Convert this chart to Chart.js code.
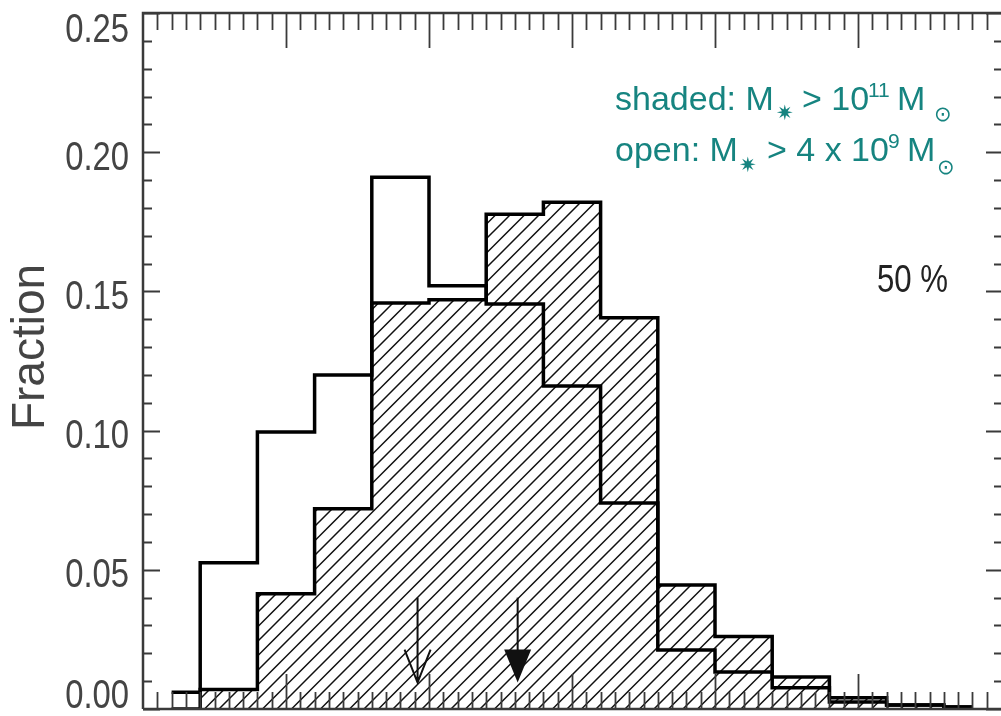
<!DOCTYPE html>
<html><head><meta charset="utf-8">
<script src="https://cdn.jsdelivr.net/npm/chart.js@4.4.1/dist/chart.umd.min.js"></script>
<style>html,body{margin:0;padding:0;background:#fff;}canvas{display:block}</style>
</head><body>
<canvas id="c" width="1001" height="716"></canvas>
<script>
// ---- data ----
const binCenters     = [0.2, 0.6, 1.0, 1.4, 1.8, 2.2, 2.6, 3.0, 3.4, 3.8, 4.2, 4.6, 5.0, 5.4, 5.8];
const openFraction   = [0.0060, 0.0525, 0.0995, 0.1200, 0.1910, 0.1520, 0.1455, 0.1160, 0.0740, 0.0212, 0.0133, 0.0076, 0.0025, 0.0014, 0.0007];
const shadedFraction = [0.0000, 0.0070, 0.0414, 0.0719, 0.1458, 0.1470, 0.1777, 0.1820, 0.1405, 0.0445, 0.0260, 0.0115, 0.0040, 0.0014, 0.0007];
const medianOpen   = 1.92;
const medianShaded = 2.62;
const yTickValues  = [0, 0.05, 0.10, 0.15, 0.20, 0.25];
const yTickLabels  = ['0.00', '0.05', '0.10', '0.15', '0.20', '0.25'];
const yAxisTitle   = 'Fraction';
const percentLabel = '50 %';
const legendLine1  = ['shaded: M', '\u2737', '> 10', '11', 'M', '\u2299'];
const legendLine2  = ['open: M', '\u2737', '> 4 x 10', '9', 'M', '\u2299'];

// ---- styles ----
const AXIS = '#3a3a3a';
const TEAL = '#168480';
const canvas = document.getElementById('c');
const mainCtx = canvas.getContext('2d');

function hatchPattern() {
  const s = 29, h = 14.5;
  const t = document.createElement('canvas');
  t.width = s; t.height = s;
  const g = t.getContext('2d');
  g.strokeStyle = '#111';
  g.lineWidth = 1.5;
  g.beginPath();
  for (let k = -3; k <= 3; k++) {
    g.moveTo(k * h - 1, s + 1);
    g.lineTo(k * h + s + 1, -1);
  }
  g.stroke();
  return mainCtx.createPattern(t, 'repeat');
}

function txt(ctx, s, x, y, font, color, sx, align) {
  ctx.save();
  ctx.translate(x, y);
  ctx.scale(sx || 1, 1);
  ctx.font = font;
  ctx.fillStyle = color;
  ctx.textAlign = align || 'left';
  ctx.textBaseline = 'alphabetic';
  ctx.fillText(s, 0, 0);
  ctx.restore();
}

const decor = {
  id: 'decor',
  afterDraw(chart) {
    const { ctx, chartArea: a, scales: { x, y } } = chart;
    ctx.save();
    // arrows (medians)
    const yTop = y.getPixelForValue(0.040), yTip = y.getPixelForValue(0.0095), headH = 33, headW = 13;
    ctx.strokeStyle = '#111'; ctx.fillStyle = '#111'; ctx.lineWidth = 2;
    let px = x.getPixelForValue(medianOpen);
    ctx.beginPath();
    ctx.moveTo(px, yTop); ctx.lineTo(px, yTip);
    ctx.moveTo(px - headW, yTip - headH); ctx.lineTo(px, yTip); ctx.lineTo(px + headW, yTip - headH);
    ctx.stroke();
    px = x.getPixelForValue(medianShaded);
    ctx.beginPath();
    ctx.moveTo(px, yTop); ctx.lineTo(px, yTip - headH + 2);
    ctx.stroke();
    ctx.beginPath();
    ctx.moveTo(px - headW - 0.5, yTip - headH); ctx.lineTo(px + headW + 0.5, yTip - headH); ctx.lineTo(px, yTip);
    ctx.closePath(); ctx.fill();

    // frame
    const R = a.right + 2;
    ctx.strokeStyle = AXIS;
    ctx.lineWidth = 2.5;
    ctx.beginPath();
    ctx.moveTo(a.left, a.bottom); ctx.lineTo(a.left, a.top); ctx.lineTo(R, a.top);
    ctx.moveTo(a.left, a.bottom); ctx.lineTo(R, a.bottom);
    ctx.moveTo(R, a.top); ctx.lineTo(R, a.bottom);
    ctx.stroke();

    // x ticks (top & bottom, inward)
    ctx.lineWidth = 1.8;
    ctx.beginPath();
    for (let i = 1; i < 60; i++) {
      const p = Math.round(x.getPixelForValue(i / 10)) + 0.5;
      const len = (i % 10 === 0) ? 35 : 17;
      ctx.moveTo(p, a.top); ctx.lineTo(p, a.top + len);
      ctx.moveTo(p, a.bottom); ctx.lineTo(p, a.bottom - len);
    }
    // y ticks (left & right, inward)
    for (let i = 0; i <= 25; i++) {
      const p = Math.round(y.getPixelForValue(i / 100)) + 0.5;
      const len = (i % 5 === 0) ? 17 : 9;
      ctx.moveTo(a.left, p); ctx.lineTo(a.left + len, p);
      ctx.moveTo(R, p); ctx.lineTo(R - len, p);
    }
    ctx.stroke();

    // y tick labels
    yTickValues.forEach((v, i) => {
      let cy = y.getPixelForValue(v) + 3;
      cy = Math.max(28, Math.min(694, cy));
      txt(ctx, yTickLabels[i], 129, cy + 14.3, '40px "Liberation Sans", Arial, sans-serif', '#444', 0.82, 'right');
    });

    // axis title
    ctx.save();
    ctx.translate(44, 347);
    ctx.rotate(-Math.PI / 2);
    ctx.font = '46px "Liberation Sans", Arial, sans-serif';
    ctx.fillStyle = '#444';
    ctx.textAlign = 'center';
    ctx.textBaseline = 'alphabetic';
    ctx.fillText(yAxisTitle, 0, 0);
    ctx.restore();

    // 50 %
    txt(ctx, percentLabel, 877, 292, '38px "Liberation Sans", Arial, sans-serif', '#222', 0.82);

    // legend text
    const F = '34px "Liberation Sans", Arial, sans-serif';
    const FS = '21px "Liberation Sans", Arial, sans-serif';
    const FD = '21px "DejaVu Sans", sans-serif';
    txt(ctx, legendLine1[0], 615, 110, F, TEAL);
    txt(ctx, legendLine1[1], 776, 120, FD, TEAL);
    txt(ctx, legendLine1[2], 802, 110, F, TEAL);
    txt(ctx, legendLine1[3], 868, 97, FS, TEAL);
    txt(ctx, legendLine1[4], 897, 110, F, TEAL);
    txt(ctx, legendLine1[5], 934, 121, FD, TEAL);

    txt(ctx, legendLine2[0], 615, 161, F, TEAL);
    txt(ctx, legendLine2[1], 739, 172, FD, TEAL);
    txt(ctx, legendLine2[2], 767, 161, F, TEAL);
    txt(ctx, legendLine2[3], 888, 148, FS, TEAL);
    txt(ctx, legendLine2[4], 907, 161, F, TEAL);
    txt(ctx, legendLine2[5], 937, 174, FD, TEAL);
    ctx.restore();
  }
};

new Chart(canvas, {
  type: 'line',
  data: {
    datasets: [
      {
        label: 'shaded',
        data: binCenters.map((v, i) => ({ x: v, y: shadedFraction[i] })),
        stepped: 'middle',
        borderColor: '#000',
        borderWidth: 3.5,
        borderJoinStyle: 'miter',
        backgroundColor: hatchPattern(),
        fill: 'origin',
        pointRadius: 0,
        order: 2
      },
      {
        label: 'open',
        data: binCenters.map((v, i) => ({ x: v, y: openFraction[i] })),
        stepped: 'middle',
        borderColor: '#000',
        borderWidth: 3.5,
        borderJoinStyle: 'miter',
        fill: false,
        pointRadius: 0,
        order: 1
      }
    ]
  },
  options: {
    responsive: false,
    animation: false,
    layout: { padding: { left: 143, top: 13, right: 0, bottom: 7 } },
    plugins: { legend: { display: false }, tooltip: { enabled: false } },
    scales: {
      x: { type: 'linear', min: 0, max: 6, display: false },
      y: { type: 'linear', min: 0, max: 0.25, display: false }
    }
  },
  plugins: [decor]
});
</script>
</body></html>
